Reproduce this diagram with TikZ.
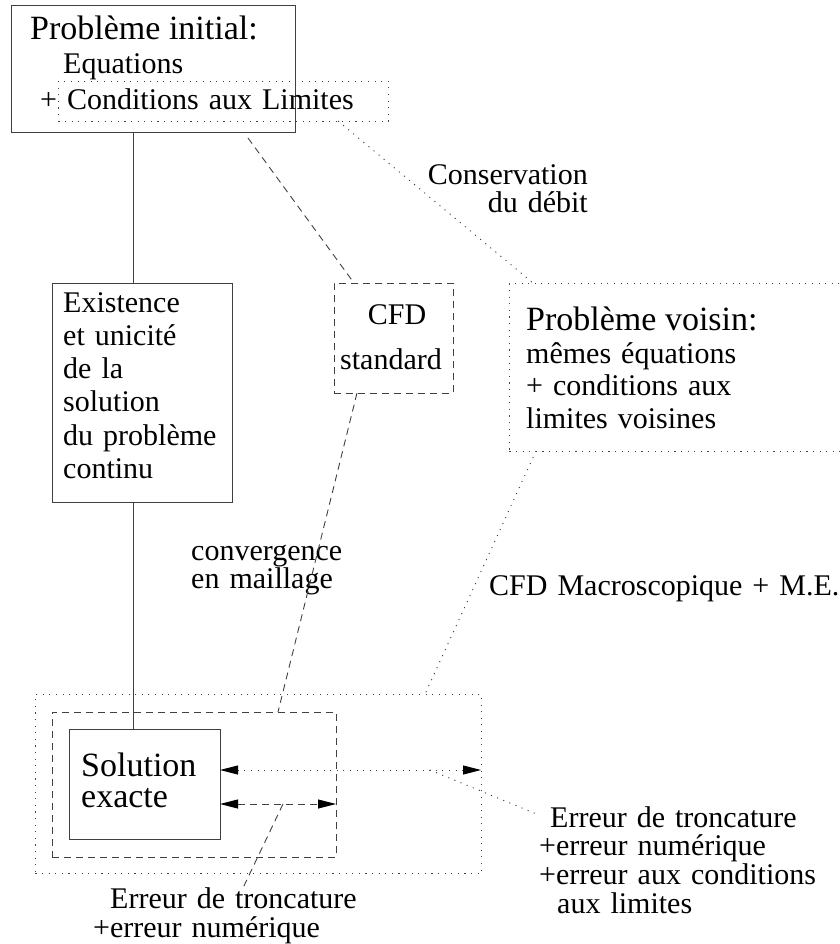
\documentclass[tikz,border=0pt]{standalone}
\usepackage{fontspec}
\setmainfont{Liberation Serif}
\usetikzlibrary{arrows.meta}
\tikzset{
  ln/.style={draw=black!75, line width=0.9pt},
  solidbox/.style={ln, rectangle, inner sep=0pt, anchor=north west},
  dashbox/.style={solidbox, dash pattern=on 7pt off 5pt},
  dotbox/.style={solidbox, dash pattern=on 1.1pt off 5.5pt},
  dashln/.style={ln, dash pattern=on 7pt off 5pt},
  dotln/.style={ln, dash pattern=on 1.1pt off 5.5pt},
  dtip/.style={{Triangle[length=18pt,width=9pt,color=black]}-{Triangle[length=18pt,width=9pt,color=black]}},
  txt/.style={inner sep=0pt, anchor=base west, text width=420pt, align=left, font=\fontsize{30}{33.3}\selectfont},
  big/.style={inner sep=0pt, anchor=base west, font=\fontsize{34}{31}\selectfont},
}
\begin{document}
\begin{tikzpicture}[x=1pt,y=-1pt]
\useasboundingbox (0,0) rectangle (839,944);
% boxes
\node[solidbox, minimum width=284pt, minimum height=127pt] (top) at (11,5) {};
\node[dotbox, minimum width=330pt, minimum height=40pt] (cl) at (58,81) {};
\node[solidbox, minimum width=180pt, minimum height=219pt] (exist) at (52,283) {};
\node[dashbox, minimum width=119pt, minimum height=110pt] (cfd) at (334,283) {};
\node[dotbox, minimum width=345pt, minimum height=168pt] (vois) at (509,283) {};
\node[dotbox, minimum width=446pt, minimum height=179pt] (outer) at (35,694) {};
\node[dashbox, minimum width=284pt, minimum height=145pt] (inner) at (52,712) {};
\node[solidbox, minimum width=151pt, minimum height=110pt] (sol) at (69,729) {};
% texts
\node[big] (t1) at (30,40) {Problème initial:};
\node[txt] (t2) at (63,74) {Equations};
\node[txt] (t3) at (40,110) {+ Conditions aux Limites};
\node[txt] (t4) at (63,312) {Existence\\et unicité\\de la\\solution\\du problème\\continu};
\node[txt, anchor=base, text width=] (t5) at (397,324) {CFD};
\node[txt, anchor=base, text width=] (t6) at (391,369) {standard};
\node[big] (t7) at (526,330) {Problème voisin:};
\node[txt, font=\fontsize{30}{32.6}\selectfont] (t8) at (526,363) {mêmes équations\\+ conditions aux\\limites voisines};
\node[txt, anchor=base east, align=right, text width=200pt, font=\fontsize{30}{28}\selectfont] (t9) at (588,185) {Conservation\\du débit};
\node[txt, font=\fontsize{30}{28}\selectfont] (t10) at (191,560) {convergence\\en maillage};
\node[txt] (t11) at (489,595) {CFD Macroscopique + M.E.};
\node[big, text width=140pt, align=left] (t12) at (81,776) {Solution\\exacte};
\node[txt, font=\fontsize{30}{29}\selectfont] (t13) at (93,908) {\hspace*{17pt}Erreur de troncature\\+erreur numérique};
\node[txt, font=\fontsize{30}{28.7}\selectfont] (t14) at (539,827) {\hspace*{11pt}Erreur de troncature\\+erreur numérique\\+erreur aux conditions\\\hspace*{18pt}aux limites};
% coordinates for connector ends
\coordinate (a1) at (133,132);
\coordinate (a2) at (133,283);
\coordinate (b1) at (133,502);
\coordinate (b2) at (133,729);
\coordinate (c1) at (248,138);
\coordinate (c2) at (354,283);
\coordinate (d1) at (338,121);
\coordinate (d2) at (533,283);
\coordinate (e1) at (357,393);
\coordinate (e2) at (278,712);
\coordinate (f1) at (536,451);
\coordinate (f2) at (425,694);
\coordinate (g1) at (220,770);
\coordinate (g2) at (481,770);
\coordinate (h1) at (220,804);
\coordinate (h2) at (336,804);
\coordinate (i1) at (430,770);
\coordinate (i2) at (539,815);
\coordinate (j1) at (283,804);
\coordinate (j2) at (242,890);
% connectors
\draw[ln] (a1) -- (a2);
\draw[ln] (b1) -- (b2);
\draw[dashln] (c1) -- (c2);
\draw[dotln] (d1) -- (d2);
\draw[dashln] (e1) -- (e2);
\draw[dotln] (f1) -- (f2);
\draw[dotln, dtip] (g1) -- (g2);
\draw[dashln, dtip] (h1) -- (h2);
\draw[dotln] (i1) -- (i2);
\draw[dashln] (j1) -- (j2);
\end{tikzpicture}
\end{document}
